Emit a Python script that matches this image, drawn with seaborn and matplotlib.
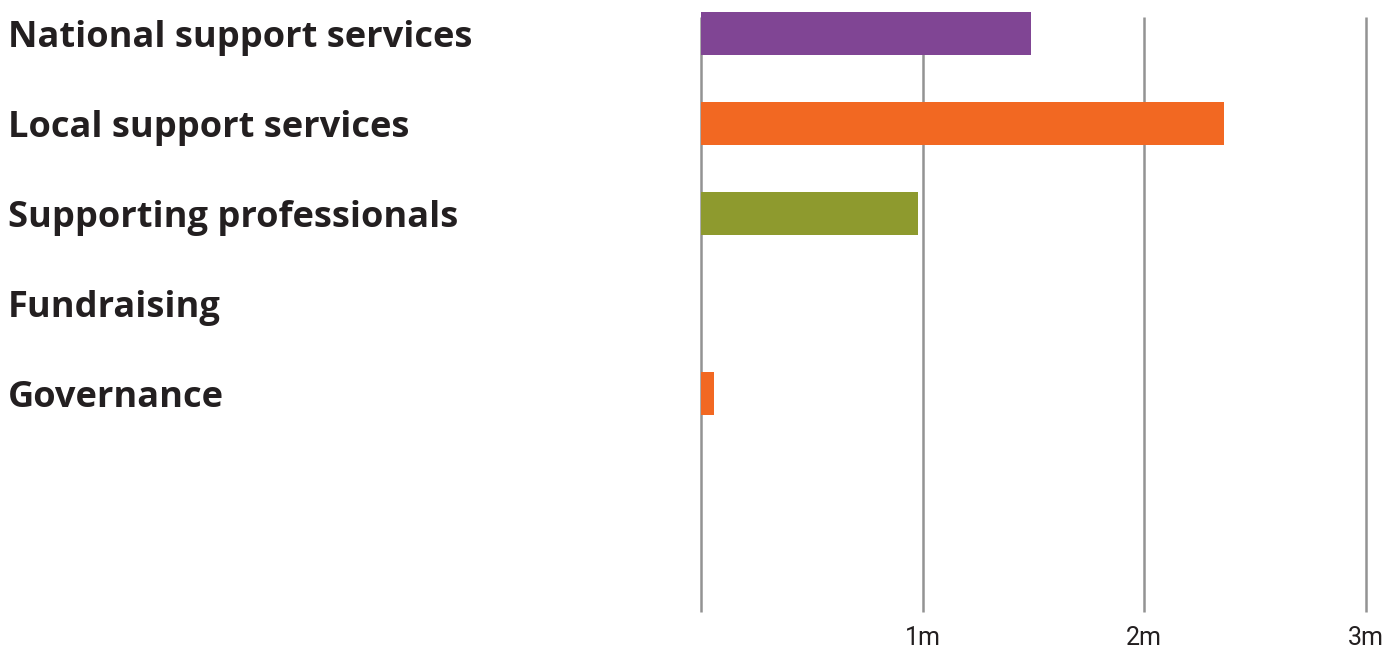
import matplotlib
matplotlib.use("Agg")
import matplotlib.pyplot as plt
import seaborn as sns
import pandas as pd

# spending by activity, in millions
categories = ["National support services", "Local support services",
              "Supporting professionals", "Fundraising", "Governance"]
values = [1.49, 2.36, 0.98, 0.0, 0.06]
bar_colors = ["#804594", "#F26822", "#8E9A2E", "#8E9A2E", "#F26822"]
tick_vals = [0, 1, 2, 3]
tick_labels = ["", "1m", "2m", "3m"]

df = pd.DataFrame({"category": categories, "value": values})

sns.set_theme(style="white")
plt.rcParams["font.family"] = ["Open Sans", "DejaVu Sans"]

W, H = 1395, 648
fig = plt.figure(figsize=(W / 100, H / 100), dpi=100)
# axes spans the grid area: x 701..1366 px, y 12..612 px
ax = fig.add_axes([701 / W, 1 - 612 / H, (1366 - 701) / W, 600 / H])

sns.barplot(data=df, x="value", y="category", hue="category",
            palette=bar_colors, legend=False, width=0.478,
            saturation=1, ax=ax, zorder=3, linewidth=0)

# row spacing 90 px; first row centre at 33.5 px
ax.set_ylim((612 - 33.5) / 90, (12 - 33.5) / 90)
ax.set_xlim(0, 3)

grid_top = (17 - 33.5) / 90
grid_bot = (612 - 33.5) / 90
ax.vlines(tick_vals, grid_bot, grid_top, color="#939393", lw=1.8,
          zorder=1, clip_on=False)

for s in ax.spines.values():
    s.set_visible(False)

ax.set_xlabel("")
ax.set_ylabel("")
ax.set_xticks(tick_vals)
ax.set_xticklabels(tick_labels, fontsize=18, color="#231F20",
                   family=["Roboto", "DejaVu Sans"])
ax.tick_params(axis="x", length=0, pad=10)

# fit the longest label to ~463 px wide, like the original
r = fig.canvas.get_renderer()
probe = fig.text(0, 0, categories[0], fontsize=20, fontweight="bold")
w = probe.get_window_extent(r).width
probe.remove()
lab_size = 20 * 463 / w

ax.set_yticks(range(len(categories)))
ax.set_yticklabels(categories, fontsize=lab_size, fontweight="bold",
                   color="#231F20", ha="left", va="center_baseline")
ax.tick_params(axis="y", length=0, pad=(701 - 8) * 0.72)

fig.savefig("out.png", dpi=100)
